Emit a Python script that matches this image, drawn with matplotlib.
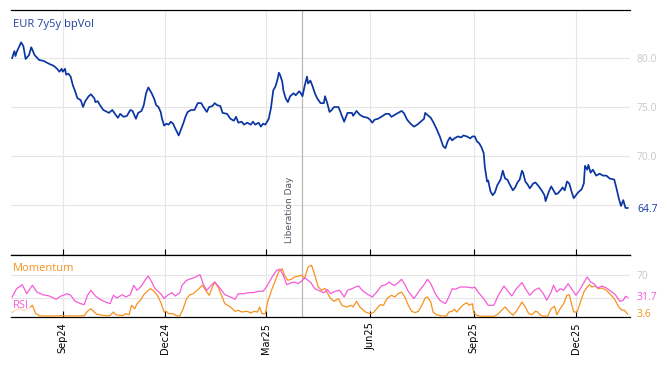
import matplotlib
matplotlib.use("Agg")
import matplotlib.pyplot as plt
import matplotlib.dates as mdates
import datetime as dt

# ---------------- data (days are offsets from 2024-09-01) ----------------
BASE = dt.date(2024, 9, 1)

vol_days = [
    -45, -43, -42, -41, -37, -35, -33, -30, -28, -25,
    -21, -17, -12, -8, -5, -3, -1, 0, 2, 3,
    5, 7, 9, 11, 13, 16, 18, 20, 23, 25,
    28, 29, 31, 33, 36, 41, 44, 47, 49, 51,
    54, 57, 60, 62, 65, 67, 70, 72, 74, 76,
    79, 81, 83, 85, 87, 88, 90, 92, 94, 96,
    98, 100, 103, 105, 107, 109, 111, 114, 117, 120,
    123, 125, 128, 130, 133, 135, 137, 140, 142, 146,
    149, 152, 154, 156, 159, 161, 164, 167, 169, 171,
    174, 176, 178, 180, 183, 185, 187, 189, 191, 192,
    193, 195, 196, 198, 200, 202, 205, 207, 210, 211,
    213, 215, 217, 218, 220, 222, 224, 226, 229, 232,
    233, 235, 237, 239, 241, 245, 247, 250, 253, 257,
    258, 261, 264, 267, 271, 273, 275, 277, 280, 283,
    287, 290, 292, 295, 298, 301, 303, 306, 309, 312,
    315, 318, 321, 322, 324, 327, 329, 332, 335, 338,
    340, 342, 344, 346, 348, 351, 354, 356, 359, 362,
    364, 366, 368, 370, 372, 374, 375, 377, 378, 380,
    382, 384, 386, 389, 391, 393, 395, 398, 400, 402,
    404, 406, 408, 409, 411, 413, 415, 418, 420, 423,
    426, 428, 429, 432, 434, 436, 438, 440, 443, 444,
    446, 448, 450, 452, 454, 456, 458, 461, 463, 464,
    466, 467, 469, 471, 474, 477, 480, 483, 486, 490,
    492, 494, 496, 498, 500, 502,
]
vol_values = [
    80.0, 80.7, 80.2, 80.6, 81.6, 81.2, 79.9, 80.3, 81.1, 80.3,
    79.8, 79.7, 79.4, 79.2, 78.9, 78.6, 78.9, 78.6, 78.9, 78.3,
    78.4, 78.1, 77.2, 76.6, 75.9, 75.7, 75.0, 75.6, 76.1, 76.3,
    75.9, 75.5, 75.6, 75.2, 74.7, 74.4, 74.7, 74.2, 73.9, 74.3,
    74.0, 74.1, 74.7, 74.6, 73.8, 74.4, 74.6, 75.2, 76.4, 77.0,
    76.4, 75.9, 75.2, 75.0, 74.5, 73.9, 73.1, 73.3, 73.2, 73.5,
    73.3, 72.8, 72.1, 72.7, 73.3, 74.0, 74.5, 74.7, 74.7, 75.4,
    75.4, 75.0, 74.5, 75.0, 75.1, 75.4, 75.2, 75.1, 74.4, 74.3,
    73.8, 73.6, 74.0, 73.4, 73.5, 73.2, 73.4, 73.2, 73.5, 73.2,
    73.4, 73.0, 73.3, 73.2, 73.8, 74.9, 76.7, 77.1, 77.9, 78.5,
    78.3, 77.6, 76.7, 75.9, 75.5, 76.1, 76.4, 76.2, 76.6, 76.5,
    76.1, 77.2, 78.1, 77.4, 77.7, 77.1, 76.4, 75.9, 75.4, 75.4,
    76.1, 75.4, 74.5, 74.7, 75.0, 75.0, 74.4, 73.5, 74.4, 74.4,
    74.1, 74.6, 74.2, 74.0, 73.9, 73.7, 73.4, 73.7, 73.8, 74.0,
    74.3, 74.3, 74.0, 74.2, 74.4, 74.6, 74.4, 73.7, 73.3, 73.0,
    73.2, 73.5, 73.8, 74.4, 74.2, 73.9, 73.5, 72.8, 72.0, 71.0,
    70.8, 71.5, 71.9, 71.6, 71.8, 72.0, 71.9, 72.1, 72.0, 71.8,
    72.0, 72.0, 71.5, 71.3, 70.9, 70.3, 68.9, 67.4, 67.5, 66.4,
    66.0, 66.3, 67.0, 67.6, 68.5, 67.7, 67.6, 66.9, 66.5, 66.8,
    67.3, 67.6, 68.5, 68.3, 67.4, 67.1, 66.7, 67.2, 67.3, 66.9,
    66.4, 66.0, 65.4, 66.4, 66.9, 66.5, 66.1, 66.2, 66.6, 66.8,
    66.5, 67.4, 67.2, 66.4, 65.7, 66.0, 66.3, 66.6, 67.2, 69.0,
    68.6, 69.1, 68.3, 68.6, 68.0, 68.2, 68.0, 68.0, 67.7, 67.6,
    66.7, 65.7, 64.9, 65.5, 64.7, 64.7,
]

rsi_days = [
    -45, -41, -36, -32, -27, -23, -18, -12, -6, -2,
    4, 7, 11, 16, 19, 22, 25, 29, 33, 38,
    42, 45, 48, 53, 56, 60, 63, 66, 70, 73,
    76, 79, 82, 87, 90, 93, 97, 100, 104, 106,
    110, 116, 122, 125, 128, 132, 135, 140, 144, 149,
    153, 156, 161, 165, 169, 174, 178, 181, 186, 190,
    193, 196, 199, 203, 206, 209, 212, 215, 220, 224,
    229, 232, 235, 238, 242, 246, 250, 253, 257, 260,
    263, 266, 270, 275, 279, 283, 287, 290, 293, 295,
    298, 301, 304, 307, 312, 316, 321, 324, 327, 331,
    335, 340, 343, 346, 349, 353, 359, 364, 366, 369,
    374, 378, 383, 387, 392, 395, 399, 403, 408, 412,
    415, 419, 423, 427, 430, 434, 436, 439, 442, 445,
    449, 452, 456, 460, 463, 466, 469, 472, 475, 479,
    483, 486, 491, 495, 498, 500, 502,
]
rsi_values = [
    32.4, 46.4, 53.1, 38.0, 52.1, 40.8, 36.3, 34.1, 28.6, 33.6,
    38.0, 35.3, 25.2, 21.2, 19.5, 35.3, 43.7, 34.1, 28.6, 24.0,
    21.2, 35.3, 30.8, 36.3, 32.4, 36.3, 52.1, 43.7, 50.9, 60.5,
    67.7, 57.6, 46.4, 38.0, 29.6, 35.3, 39.7, 34.1, 39.7, 52.1,
    60.5, 64.4, 69.9, 53.1, 43.7, 52.1, 57.6, 46.4, 36.3, 32.4,
    28.6, 38.0, 38.0, 39.7, 39.7, 42.0, 42.0, 49.2, 66.1, 77.3,
    79.0, 68.9, 53.1, 56.5, 57.6, 54.8, 58.8, 64.4, 57.6, 46.4,
    42.0, 39.5, 45.0, 38.0, 42.0, 43.7, 32.4, 43.7, 46.4, 49.2,
    50.9, 43.7, 38.0, 32.4, 40.8, 50.9, 53.1, 57.6, 53.1, 52.1,
    56.5, 62.2, 53.1, 42.0, 29.6, 40.8, 53.1, 62.2, 54.8, 38.0,
    26.9, 21.2, 32.4, 46.4, 45.4, 49.2, 49.2, 47.6, 49.2, 40.8,
    29.6, 18.5, 18.5, 35.3, 50.9, 43.7, 34.1, 46.4, 56.5, 43.7,
    35.3, 43.7, 47.6, 38.0, 26.9, 40.8, 52.1, 40.8, 46.4, 43.7,
    54.8, 46.4, 35.3, 46.4, 56.5, 66.1, 57.6, 54.8, 47.6, 50.9,
    47.6, 43.7, 36.3, 25.2, 26.9, 33.6, 31.7,
]

mom_days = [
    -45, -39, -35, -30, -27, -24, -20, -9, -1, 11,
    19, 22, 25, 28, 30, 38, 42, 45, 47, 53,
    56, 59, 61, 64, 66, 69, 72, 75, 78, 81,
    84, 87, 90, 92, 94, 98, 101, 104, 107, 110,
    113, 116, 121, 124, 127, 130, 133, 135, 138, 141,
    144, 149, 153, 156, 159, 164, 167, 170, 173, 175,
    177, 180, 182, 186, 189, 192, 195, 197, 200, 203,
    206, 210, 212, 215, 218, 221, 224, 227, 230, 233,
    235, 238, 241, 245, 248, 252, 256, 258, 261, 264,
    269, 273, 276, 279, 282, 285, 288, 292, 295, 298,
    301, 304, 307, 310, 313, 316, 319, 322, 324, 327,
    329, 332, 337, 341, 343, 346, 348, 350, 353, 356,
    359, 361, 364, 365, 368, 371, 383, 386, 390, 393,
    397, 400, 403, 408, 411, 414, 417, 420, 422, 424,
    427, 431, 434, 437, 439, 442, 445, 448, 450, 452,
    454, 457, 460, 463, 466, 468, 470, 473, 476, 479,
    483, 486, 490, 494, 497, 499, 502,
]
mom_values = [
    7.2, 12.8, 10.1, 13.9, 18.5, 4.4, 0.5, 0.5, 1.0, 0.5,
    1.0, 8.4, 12.8, 7.2, 3.4, 1.0, 1.0, 7.2, 2.7, 1.0,
    4.4, 2.7, 18.5, 12.8, 21.2, 26.9, 36.3, 42.0, 46.4, 42.0,
    35.3, 24.0, 7.2, 8.4, 4.4, 4.4, 1.0, 0.5, 12.8, 29.6,
    36.3, 38.0, 46.4, 52.1, 43.7, 35.3, 49.2, 57.6, 49.2, 35.3,
    21.2, 15.6, 8.4, 10.1, 7.2, 8.4, 5.5, 8.4, 7.2, 15.6,
    4.4, 4.4, 24.0, 46.4, 60.5, 75.6, 80.0, 68.9, 60.5, 62.2,
    66.1, 67.7, 68.9, 64.4, 82.9, 85.7, 68.9, 49.2, 43.7, 47.0,
    39.7, 29.6, 25.2, 29.6, 18.5, 15.6, 18.5, 15.6, 25.2, 15.6,
    7.2, 4.4, 6.1, 12.8, 19.5, 18.5, 29.6, 35.3, 32.4, 38.0,
    40.8, 32.4, 18.5, 8.4, 6.1, 8.4, 18.5, 30.8, 32.4, 24.0,
    7.2, 2.7, 0.5, 0.5, 7.2, 8.4, 11.8, 7.2, 13.9, 19.5,
    22.9, 18.5, 21.2, 6.1, 1.7, 0.0, 0.0, 2.7, 10.1, 15.6,
    7.2, 1.7, 8.4, 24.0, 15.6, 4.4, 2.7, 8.4, 7.2, 2.7,
    0.0, 0.5, 12.8, 16.8, 2.7, 12.8, 21.2, 35.3, 36.3, 21.2,
    7.2, 7.2, 24.0, 40.8, 49.2, 53.1, 49.2, 50.9, 46.4, 47.6,
    43.7, 38.0, 29.6, 15.6, 10.1, 10.1, 3.6,
]

tick_dates = ["2024-09-01", "2024-12-01", "2025-03-01", "2025-06-01", "2025-09-01", "2025-12-01"]
event_date = "2025-04-02"
event_label = "Liberation Day"
title = "EUR 7y5y bpVol"
vol_ticks = [65, 70, 75, 80]
vol_ticklabels = ["", "70.0", "75.0", "80.0"]
osc_ticks = [30, 70]
osc_ticklabels = ["", "70"]

# ---------------- styling ----------------
BLUE = "#0b35a3"
PINK = "#f55bd9"
ORANGE = "#f7921f"
GRID = "#e6e6e6"
LIGHT = "#c8c8c8"


def to_dates(days):
    return [BASE + dt.timedelta(days=int(d)) for d in days]


fig = plt.figure(figsize=(6.68, 3.66), dpi=100)
W, H = 668.0, 366.0
left, right = 11 / W, 630 / W
ax = fig.add_axes([left, 1 - 255 / H, right - left, (255 - 10) / H])
ax2 = fig.add_axes([left, 1 - 317 / H, right - left, (317 - 255) / H], sharex=ax)

ev = dt.date.fromisoformat(event_date)
ticks = [dt.date.fromisoformat(t) for t in tick_dates]

for a in (ax, ax2):
    a.axvline(ev, color="#b9b9b9", lw=0.9, zorder=1)
    a.grid(True, color=GRID, lw=0.8, zorder=0)
    a.set_axisbelow(True)
    for s in ("left", "right"):
        a.spines[s].set_visible(False)
    for s in ("top", "bottom"):
        a.spines[s].set_color("black")
        a.spines[s].set_linewidth(0.9)
    a.yaxis.tick_right()
    a.tick_params(axis="y", length=0, pad=5, labelsize=7.5, labelcolor=LIGHT)

# main panel
ax.plot(to_dates(vol_days), vol_values, color=BLUE, lw=1.25, zorder=3)
ax.set_ylim(59.9, 84.9)
ax.set_yticks(vol_ticks)
ax.set_yticklabels(vol_ticklabels, fontfamily="Open Sans")
ax.set_xticks(ticks)
ax.tick_params(axis="x", direction="in", length=4, width=0.8, labelbottom=False)
ax.set_xlim(BASE + dt.timedelta(days=-45.3), BASE + dt.timedelta(days=504))

ax.annotate(title, xy=(0, 1), xycoords="axes fraction", xytext=(1.5, -10.5),
            textcoords="offset points", ha="left", va="center", fontsize=8,
            color="#1f3f9f", fontfamily="Open Sans")
ax.annotate(f"{vol_values[-1]:.1f}", xy=(1, vol_values[-1]), xycoords=("axes fraction", "data"),
            xytext=(5, -1), textcoords="offset points", ha="left", va="center",
            fontsize=7.5, color=BLUE, fontfamily="Open Sans")
ax.annotate(event_label, xy=(ev, 0), xycoords=("data", "axes fraction"), xytext=(-9.5, 8.5),
            textcoords="offset points", rotation=90, ha="center", va="bottom",
            fontsize=6.5, color="#4f5868")

# oscillator panel
ax2.plot(to_dates(mom_days), mom_values, color=ORANGE, lw=0.9, zorder=3)
ax2.plot(to_dates(rsi_days), rsi_values, color=PINK, lw=0.9, zorder=3)
ax2.set_ylim(-1.2, 103)
ax2.set_yticks(osc_ticks)
ax2.set_yticklabels(osc_ticklabels, fontfamily="Open Sans")
ax2.set_xticks(ticks)
ax2.xaxis.set_major_formatter(mdates.DateFormatter("%b%y"))
ax2.tick_params(axis="x", direction="in", length=4, width=0.8, labelsize=7, labelrotation=90, pad=4)

ax2.annotate(f"{rsi_values[-1]:.1f}", xy=(1, rsi_values[-1]), xycoords=("axes fraction", "data"),
             xytext=(5, 0), textcoords="offset points", ha="left", va="center",
             fontsize=7.5, color=PINK, fontfamily="Open Sans")
ax2.annotate(f"{mom_values[-1]:.1f}", xy=(1, mom_values[-1]), xycoords=("axes fraction", "data"),
             xytext=(5, 0), textcoords="offset points", ha="left", va="center",
             fontsize=7.5, color=ORANGE, fontfamily="Open Sans")
ax2.annotate("Momentum", xy=(0, 1), xycoords="axes fraction", xytext=(1.5, -9.5),
             textcoords="offset points", ha="left", va="center", fontsize=8,
             color=ORANGE, fontfamily="Open Sans", zorder=5,
             bbox=dict(boxstyle="square,pad=0.1", fc="white", ec="none", alpha=0.7))
ax2.annotate("RSI", xy=(0, 0), xycoords="axes fraction", xytext=(1.5, 8),
             textcoords="offset points", ha="left", va="center", fontsize=8,
             color=PINK, fontfamily="Open Sans", zorder=5,
             bbox=dict(boxstyle="square,pad=0.1", fc="white", ec="none", alpha=0.7))

fig.savefig("out.png", dpi=100)
